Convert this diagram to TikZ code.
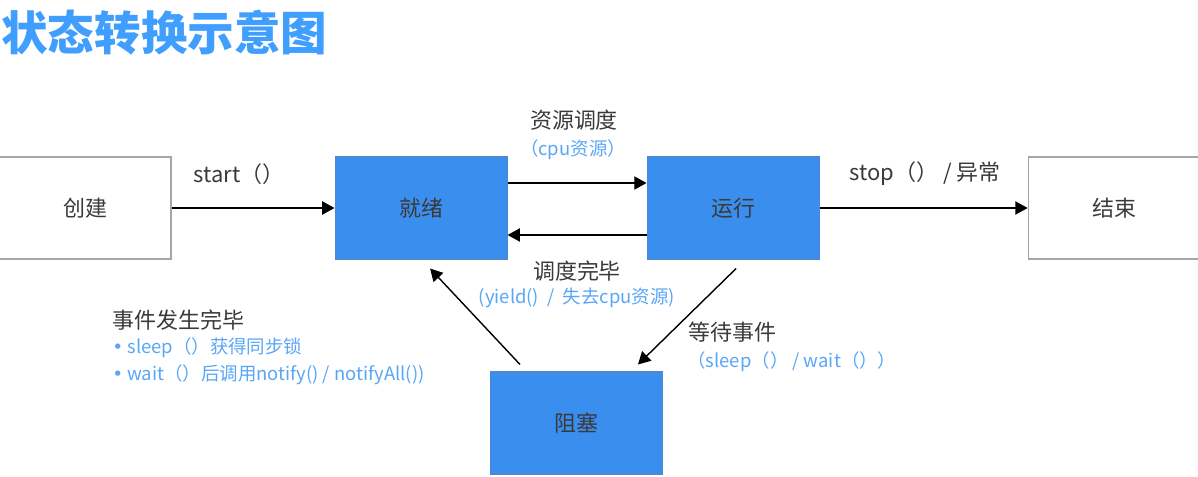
\documentclass[tikz,border=0pt]{standalone}
\usepackage{fontspec}
\setmainfont{Noto Sans CJK SC}
\newfontfamily\symfont{DejaVu Sans}
\usepackage{tikz}
\usetikzlibrary{arrows.meta, positioning}
\usepackage{xcolor}
\definecolor{boxblue}{RGB}{58,142,238}
\definecolor{titleblue}{RGB}{64,158,255}
\definecolor{noteblue}{RGB}{88,166,246}
\definecolor{textgray}{RGB}{58,58,58}

\begin{document}
\begin{tikzpicture}[
  box/.style={draw=gray!70, line width=0.6pt, minimum width=3.44cm, minimum height=2.04cm, font=\fontsize{12.5}{15}\selectfont, text=textgray},
  bluebox/.style={box, fill=boxblue, draw=boxblue!75!gray},
  lbl/.style={font=\fontsize{12.5}{15}\selectfont, text=textgray, inner sep=0pt},
  note/.style={font=\fontsize{10.5}{13}\selectfont, text=noteblue, inner sep=0pt},
  arr/.style={-{Triangle[length=7pt, width=7.5pt]}, line width=0.8pt},
  node distance=0.5cm and 0.3cm
]
  \useasboundingbox (0,0) rectangle (23.96,9.52);
  \node[lbl, anchor=west, font=\fontsize{26.5}{30}\selectfont\bfseries, text=titleblue] (title) at (0.02,8.86) {状态转换示意图};

  \node[box] (create) at (1.7,5.36) {创建};
  \node[bluebox, right=3.26cm of create] (ready) {就绪};
  \node[bluebox, right=2.78cm of ready] (run) {运行};
  \node[box, right=4.16cm of run] (end) {结束};
  \node[bluebox] (block) at (11.53,1.06) {阻塞};

  \node[lbl] (startlbl) at (4.78,6.04) {start（）};
  \node[lbl] (schedlbl) at (11.48,7.12) {资源调度};
  \node[note] (cpulbl) at (11.46,6.52) {（cpu资源）};
  \node[lbl] (donelbl) at (11.54,4.10) {调度完毕};
  \node[note] (yieldlbl) at (11.54,3.56) {(yield() \ / \ 失去cpu资源)};
  \node[lbl] (stoplbl) at (18.5,6.04) {stop（）\ / 异常};
  \node[lbl, anchor=west] (waitlbl) at (13.76,2.88) {等待事件};
  \node[note, anchor=west] (waitnote) at (13.74,2.28) {（sleep（） / wait（））};
  \node[lbl, anchor=west] (evtlbl) at (2.24,3.12) {事件发生完毕};
  \node[note, anchor=west] (sleepnote) at (2.24,2.56) {{\symfont •} sleep（）获得同步锁};
  \node[note, anchor=west] (notifynote) at (2.24,2.02) {{\symfont •} wait（）后调用notify() / notifyAll())};

  \draw[arr] (create) -- (ready);
  \draw[arr] ([yshift=0.5cm]ready.east) -- ([yshift=0.5cm]run.west);
  \draw[arr] ([yshift=-0.54cm]run.west) -- ([yshift=-0.54cm]ready.east);
  \draw[arr] (run) -- (end);
  \draw[arr] ([shift={(0.06,-0.18)}]run.south) -- ([shift={(1.23,0.14)}]block.north);
  \draw[arr] ([shift={(-1.13,0.14)}]block.north) -- ([shift={(0.18,-0.18)}]ready.south);
\end{tikzpicture}
\end{document}
